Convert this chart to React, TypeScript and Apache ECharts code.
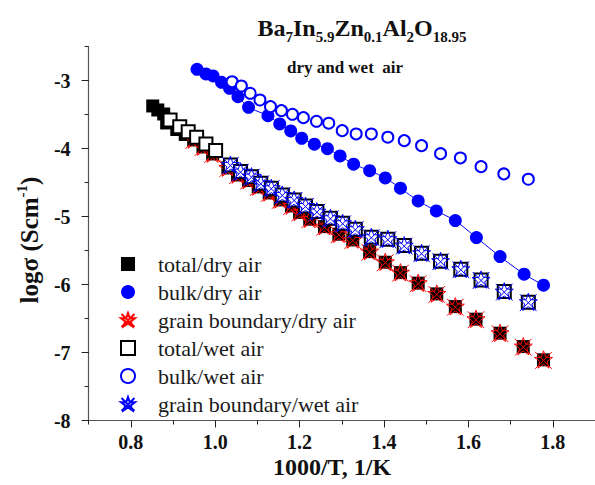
import React, { useEffect, useRef } from 'react';
import * as echarts from 'echarts';

// 1000/T (1/K) vs log sigma (S/cm)
const totalDry: [number, number][] = [
  [0.852, -3.372], [0.864, -3.431], [0.878, -3.49], [0.885, -3.622], [0.909, -3.718],
  [0.929, -3.791], [0.949, -3.872], [0.971, -3.975], [0.994, -4.078], [1.03, -4.284],
  [1.053, -4.387], [1.079, -4.468], [1.102, -4.563], [1.128, -4.651], [1.154, -4.754],
  [1.181, -4.843], [1.2, -4.938], [1.224, -5.038], [1.259, -5.147], [1.293, -5.259],
  [1.326, -5.343], [1.366, -5.515], [1.403, -5.671], [1.439, -5.824], [1.481, -5.979],
  [1.525, -6.137], [1.569, -6.324], [1.618, -6.509], [1.675, -6.715], [1.73, -6.912],
  [1.778, -7.107],
];

const bulkDry: [number, number][] = [
  [0.957, -2.832], [0.978, -2.901], [0.995, -2.931], [1.015, -3.024], [1.034, -3.112],
  [1.054, -3.235], [1.079, -3.391], [1.125, -3.515], [1.153, -3.637], [1.179, -3.74],
  [1.205, -3.847], [1.235, -3.935], [1.266, -4.0], [1.296, -4.107], [1.328, -4.229],
  [1.366, -4.324], [1.403, -4.431], [1.439, -4.582], [1.481, -4.769], [1.524, -4.916],
  [1.569, -5.059], [1.619, -5.309], [1.675, -5.588], [1.732, -5.847], [1.778, -6.009],
];

const gbDry: [number, number][] = [
  [0.949, -3.872], [0.971, -3.975], [0.994, -4.078], [1.03, -4.284], [1.053, -4.387],
  [1.079, -4.468], [1.102, -4.563], [1.128, -4.651], [1.154, -4.754], [1.181, -4.843],
  [1.2, -4.938], [1.224, -5.038], [1.259, -5.147], [1.293, -5.259], [1.326, -5.343],
  [1.366, -5.515], [1.403, -5.671], [1.439, -5.824], [1.481, -5.979], [1.525, -6.137],
  [1.569, -6.324], [1.618, -6.509], [1.675, -6.715], [1.73, -6.912], [1.778, -7.107],
];

const totalWet: [number, number][] = [
  [0.893, -3.578], [0.916, -3.676], [0.936, -3.75], [0.956, -3.832], [0.978, -3.931],
  [1.001, -4.029], [1.036, -4.24], [1.06, -4.338], [1.086, -4.412], [1.108, -4.509],
  [1.133, -4.582], [1.159, -4.681], [1.187, -4.754], [1.214, -4.843], [1.241, -4.926],
  [1.273, -5.024], [1.302, -5.097], [1.332, -5.185], [1.37, -5.303], [1.409, -5.332],
  [1.448, -5.426], [1.489, -5.538], [1.534, -5.656], [1.582, -5.774], [1.63, -5.931],
  [1.685, -6.103], [1.742, -6.259],
];

const bulkWet: [number, number][] = [
  [1.04, -3.015], [1.062, -3.078], [1.083, -3.185], [1.106, -3.284], [1.131, -3.382],
  [1.157, -3.441], [1.183, -3.494], [1.209, -3.544], [1.24, -3.597], [1.269, -3.626],
  [1.301, -3.735], [1.334, -3.784], [1.37, -3.784], [1.409, -3.832], [1.448, -3.882],
  [1.489, -3.956], [1.534, -4.074], [1.581, -4.137], [1.63, -4.265], [1.684, -4.372],
  [1.742, -4.45],
];

const gbWet: [number, number][] = [
  [1.036, -4.24], [1.06, -4.338], [1.086, -4.412], [1.108, -4.509], [1.133, -4.582],
  [1.159, -4.681], [1.187, -4.754], [1.214, -4.843], [1.241, -4.926], [1.273, -5.024],
  [1.302, -5.097], [1.332, -5.185], [1.37, -5.303], [1.409, -5.332], [1.448, -5.426],
  [1.489, -5.538], [1.534, -5.656], [1.582, -5.774], [1.63, -5.931], [1.685, -6.103],
  [1.742, -6.259],
];

const seriesNames = [
  'total/dry air',
  'bulk/dry air',
  'grain boundary/dry air',
  'total/wet air',
  'bulk/wet air',
  'grain boundary/wet air',
];

const xMajorTicks = [0.8, 1.0, 1.2, 1.4, 1.6, 1.8];
const yMajorTicks = [-8, -7, -6, -5, -4, -3];

const SERIF = 'Liberation Serif, serif';
const BLUE = '#0000ff';
const RED = '#ff0000';

// asterisk-star marker: five-point star outline crossed by an X
const STAR =
  'path://M50 0 L61.76 33.82 L97.55 34.55 L69.02 56.18 L79.39 90.45 L50 70 L20.61 90.45 L30.98 56.18 L2.45 34.55 L38.24 33.82 Z M6 6 L94 94 M94 6 L6 94';

export default function App() {
  const ref = useRef<HTMLDivElement>(null);

  useEffect(() => {
    if (!ref.current) return;
    const chart = echarts.init(ref.current, null, { renderer: 'svg' });

    const axisColor = '#555';
    const tickLabel = {
      fontFamily: SERIF,
      fontWeight: 'bold',
      fontSize: 20,
      color: '#111',
    };

    const option: any = {
      animation: false,
      backgroundColor: '#ffffff',
      grid: { left: 88.6, right: -1, top: 46.7, bottom: 64.5, containLabel: false },
      xAxis: [
        {
          type: 'value',
          min: 0.7,
          max: 1.9,
          interval: 0.1,
          position: 'bottom',
          axisLine: { show: true, onZero: false, lineStyle: { color: axisColor, width: 1.2 } },
          axisTick: { show: true, length: 4, lineStyle: { color: '#222', width: 1 } },
          axisLabel: { show: false },
          splitLine: { show: false },
        },
        {
          type: 'value',
          min: 0.7,
          max: 1.9,
          position: 'bottom',
          axisLine: { show: false, onZero: false },
          axisTick: { show: true, length: 7, customValues: xMajorTicks, lineStyle: { color: '#222', width: 1 } },
          axisLabel: {
            show: true,
            customValues: xMajorTicks,
            margin: 11,
            formatter: (v: number) => v.toFixed(1),
            ...tickLabel,
          },
          splitLine: { show: false },
        },
      ],
      yAxis: [
        {
          type: 'value',
          min: -8,
          max: -2.5,
          interval: 0.5,
          position: 'left',
          axisLine: { show: true, onZero: false, lineStyle: { color: axisColor, width: 1.2 } },
          axisTick: { show: true, length: 4, lineStyle: { color: '#222', width: 1 } },
          axisLabel: { show: false },
          splitLine: { show: false },
        },
        {
          type: 'value',
          min: -8,
          max: -2.5,
          position: 'left',
          axisLine: { show: false, onZero: false },
          axisTick: { show: true, length: 7, customValues: yMajorTicks, lineStyle: { color: '#222', width: 1 } },
          axisLabel: {
            show: true,
            customValues: yMajorTicks,
            margin: 18,
            formatter: (v: number) => String(v),
            ...tickLabel,
          },
          splitLine: { show: false },
        },
      ],
      legend: {
        orient: 'vertical',
        left: 115,
        top: 248,
        itemWidth: 14,
        itemHeight: 14,
        itemGap: 6,
        selectedMode: false,
        data: seriesNames,
        textStyle: {
          fontFamily: SERIF,
          fontSize: 22,
          color: '#1a1a1a',
          padding: [0, 0, 0, 18],
        },
      },
      series: [
        {
          name: seriesNames[0],
          type: 'scatter',
          symbol: 'rect',
          symbolSize: 13,
          itemStyle: { color: '#000', opacity: 1 },
          data: totalDry,
        },
        {
          name: seriesNames[1],
          type: 'scatter',
          symbol: 'circle',
          symbolSize: 13,
          itemStyle: { color: BLUE, opacity: 1 },
          data: bulkDry,
        },
        {
          name: 'bulk/dry air line',
          type: 'line',
          showSymbol: false,
          smooth: 0.2,
          lineStyle: { color: BLUE, width: 1 },
          data: bulkDry,
          silent: true,
        },
        {
          name: seriesNames[2],
          type: 'scatter',
          symbol: STAR,
          symbolSize: 18,
          itemStyle: { color: 'rgba(0,0,0,0)', borderColor: RED, borderWidth: 1, opacity: 1 },
          data: gbDry,
        },
        {
          name: seriesNames[3],
          type: 'scatter',
          symbol: 'emptyRect',
          symbolSize: 13,
          itemStyle: { color: '#000', opacity: 1 },
          data: totalWet,
        },
        {
          name: seriesNames[4],
          type: 'scatter',
          symbol: 'emptyCircle',
          symbolSize: 11,
          itemStyle: { color: BLUE, opacity: 1 },
          data: bulkWet,
        },
        {
          name: seriesNames[5],
          type: 'scatter',
          symbol: STAR,
          symbolSize: 18,
          itemStyle: { color: 'rgba(0,0,0,0)', borderColor: BLUE, borderWidth: 1, opacity: 1 },
          data: gbWet,
        },
      ],
      graphic: [
        {
          type: 'text',
          x: 362,
          y: 28,
          style: {
            text: '{m|Ba}{s|7}{m|In}{s|5.9}{m|Zn}{s|0.1}{m|Al}{s|2}{m|O}{s|18.95}',
            align: 'center',
            verticalAlign: 'middle',
            textAlign: 'center',
            textVerticalAlign: 'middle',
            rich: {
              m: { fontFamily: SERIF, fontWeight: 'bold', fontSize: 24, fill: '#111', color: '#111' },
              s: { fontFamily: SERIF, fontWeight: 'bold', fontSize: 15, fill: '#111', color: '#111', padding: [18, 0, 0, 0] },
            },
          },
        },
        {
          type: 'text',
          x: 345,
          y: 67,
          style: {
            text: 'dry and wet  air',
            font: 'bold 17px ' + SERIF,
            fill: '#111',
            align: 'center',
            verticalAlign: 'middle',
            textAlign: 'center',
            textVerticalAlign: 'middle',
          },
        },
        {
          type: 'text',
          x: 332,
          y: 467,
          style: {
            text: '1000/T, 1/K',
            font: 'bold 24px ' + SERIF,
            fill: '#111',
            align: 'center',
            verticalAlign: 'middle',
            textAlign: 'center',
            textVerticalAlign: 'middle',
          },
        },
        {
          type: 'text',
          x: 29,
          y: 240,
          rotation: Math.PI / 2,
          style: {
            text: '{a|logσ (Scm}{p|-1}{a|)}',
            align: 'center',
            verticalAlign: 'middle',
            textAlign: 'center',
            textVerticalAlign: 'middle',
            rich: {
              a: { fontFamily: SERIF, fontWeight: 'bold', fontSize: 25, fill: '#111', color: '#111' },
              p: { fontFamily: SERIF, fontWeight: 'bold', fontSize: 15, fill: '#111', color: '#111', padding: [0, 0, 14, 0] },
            },
          },
        },
      ],
    };

    chart.setOption(option);
    return () => chart.dispose();
  }, []);

  return (
    <div
      ref={ref}
      style={{ position: 'absolute', left: 0, top: 0, width: 595, height: 485, background: '#fff' }}
    />
  );
}
